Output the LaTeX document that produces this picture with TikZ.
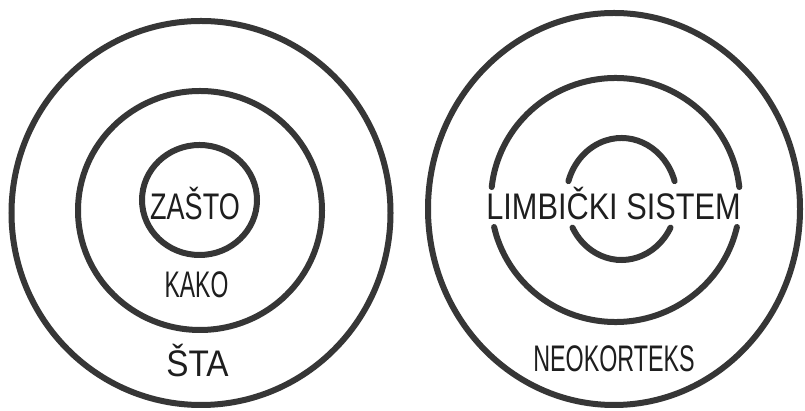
\documentclass[tikz,border=0pt]{standalone}
\usepackage{fontspec}
\setmainfont{Liberation Sans}
\definecolor{ring}{HTML}{363636}
\definecolor{ink}{HTML}{1E1E1E}
\tikzset{
  ringline/.style={draw=ring, line width=6pt, line cap=round},
  label/.style={text=ink, anchor=base, inner sep=0pt, font=\fontsize{37}{37}\selectfont},
}
\begin{document}
\begin{tikzpicture}[x=1pt,y=1pt]
\useasboundingbox[fill=white] (0,0) rectangle (805,411);
% left golden circle
\draw[ringline] (201,198) ellipse [x radius=189.5pt, y radius=192pt];
\draw[ringline] (200,200.5) ellipse [x radius=122pt, y radius=119.5pt];
\draw[ringline] (199.5,211) ellipse [x radius=57.5pt, y radius=55pt];
\node[label, xscale=0.73] (zasto) at (195,191) {ZAŠTO};
\node[label, xscale=0.62] (kako) at (196.5,113) {KAKO};
\node[label, xscale=0.9] (sta) at (197.5,34) {ŠTA};
% right: brain
\draw[ringline] (614,202) ellipse [x radius=186pt, y radius=196pt];
\draw[ringline] (615.5,211) ++(6.1:124.5pt and 122pt) arc[start angle=6.1, end angle=173.9, x radius=124.5pt, y radius=122pt];
\draw[ringline] (615.5,211) ++(-12.8:124.5pt and 122pt) arc[start angle=-12.8, end angle=-167.2, x radius=124.5pt, y radius=122pt];
\draw[ringline] (621.5,212) ++(17:55.5pt and 61pt) arc[start angle=17, end angle=163, x radius=55.5pt, y radius=61pt];
\draw[ringline] (621.5,212) ++(-28:55.5pt and 61pt) arc[start angle=-28, end angle=-152, x radius=55.5pt, y radius=61pt];
\node[label, xscale=0.83] (limbicki) at (613.5,191) {LIMBIČKI SISTEM};
\node[label, xscale=0.63] (neokorteks) at (614,39) {NEOKORTEKS};
\end{tikzpicture}
\end{document}
